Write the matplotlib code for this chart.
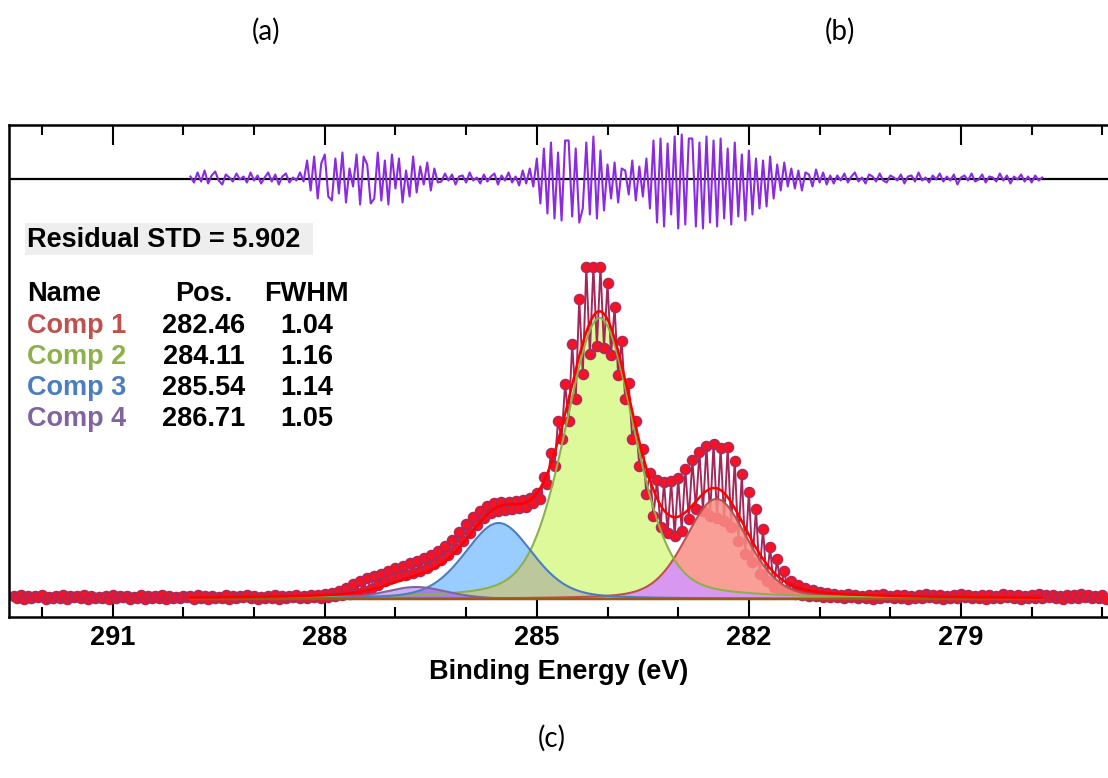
import numpy as np
import matplotlib
matplotlib.use("Agg")
import matplotlib.pyplot as plt
from matplotlib.patches import Rectangle
from matplotlib.ticker import FixedLocator, MultipleLocator

# ---------------- data ----------------
# measured spectrum: two interleaved tracks, 0.1 eV apart each, offset by 0.05 eV
upper_start = 292.40
energy_step = 0.1
upper_counts = [3, 4, 3, 3, 4, 2, 3, 4, 3, 3, 4, 3, 2, 3, 4, 3, 3, 2, 4, 3,
                3, 4, 3, 2, 3, 3, 4, 3, 3, 2, 4, 3, 3, 4, 3, 2, 3, 4, 3, 3,
                4, 3, 4, 4,
                5, 6, 8, 11, 15, 18, 21, 23, 25, 28,
                31, 33, 36, 38, 41, 44, 48, 53, 59, 67,
                75, 82, 88, 93, 96, 97, 97, 98, 99, 101,
                106, 122, 146, 178, 215, 255, 300, 332, 332, 332,
                316, 292, 258, 216, 178, 150, 126, 119, 117, 118,
                121, 130, 139, 147, 153, 155, 151, 152, 138, 125,
                107, 90, 70, 52, 40, 28, 18, 14, 11, 9,
                7, 6, 5,
                4, 5, 4, 3, 4, 4, 5, 3, 4, 4, 3, 4, 5, 4, 4, 3, 4, 5, 4, 3,
                4, 4, 3, 5, 4, 4, 3, 4, 5, 4, 4, 3, 4, 4, 5, 4, 3, 4]
lower_counts = [1, 0, 1, 2, 0, 1, 1, 0, 2, 1, 0, 1, 1, 0, 1, 2, 0, 1, 0, 1,
                1, 0, 1, 1, 2, 0, 1, 0, 1, 1, 0, 1, 2, 1, 0, 1, 1, 0, 1, 2,
                1, 1, 2, 1,
                2, 3, 4, 5, 6, 8, 10, 14, 18, 21,
                23, 24, 26, 28, 31, 35, 39, 44, 50, 58,
                66, 74, 81, 86, 88, 89, 90, 91, 92, 96,
                100, 115, 133, 160, 178, 200, 225, 245, 253, 251,
                244, 224, 200, 160, 133, 105, 83, 72, 66, 63,
                68, 80, 90, 88, 83, 81, 78, 72, 58, 45,
                37, 25, 18, 12, 9, 7, 5, 4, 3, 3,
                2, 2, 2,
                1, 2, 1, 1, 0, 1, 2, 1, 1, 0, 1, 1, 2, 1, 0, 1, 1, 2, 1, 1,
                0, 1, 1, 2, 1, 0, 1, 1, 1, 2, 1, 0, 1, 1, 2, 1, 1, 0]

# fitted components (table in the chart) and their heights
comp_names = ["Comp 1", "Comp 2", "Comp 3", "Comp 4"]
comp_pos = [282.46, 284.11, 285.54, 286.71]
comp_fwhm = [1.04, 1.16, 1.14, 1.05]
comp_height = [100, 281, 76, 12]
gl_mix = 0.3
background_level = 0.0
fit_start, fit_end = 289.90, 277.85

# residual trace (top strip), 0.05 eV spacing starting at fit_start
residual_step = 0.05
residual = [2, -4, 6, -3, 8, -5, 3, 7, -2, -6, 4, 1, -3, 5, -1, 2, -4, 6, -2, 3,
            -5, 1, 6, -3, 4, -6, 2, 5, -4, 1, -2, 6, -3,
            18, -12, 22, -20, 15, 24, -18, -22, 20, -15, 26, -24, 10, -8, 24, -26, 22, 14, -25, -20,
            26, -22, 18, -26, 24, -10, 20, -24, 8, -18, 22, -14, 12, -6, 16, -12, 10, -4,
            -3, 5, -2, 4, -6, 2, 3, -4, 6, -2, 1, -5, 4, -3, 2, 5, -6, 3, -2, 6,
            -4, 2, -7, 8, -5, 10, -8,
            20, -25, 30, -35, 36, -40, 26, -42, 38, 38, -38, 30, -44, -30, 36, -36, 42, -40, 28, -32,
            14, -20, 16, -24, 10, 8, -16, 18, -22, 12, -18, 20,
            -30, 38, -44, 40, -48, 35, -36, 42, -50, 44, -46, 40, 40, -48, 36, -50, 42, -44, 38, -48,
            40, -40, 30, -46, 36, -38, 24, -42, 28,
            -36, 20, -30, 18, -28, 22, -20, 14, -12, 16, -8, 10,
            -10, 8, -12, 6, 4, -8, 9, -4, 6, -6, 3, -5,
            3, -2, 5, -4, 2, 6, -3, 1, -5, 4, 2, -3, 5, -2, -4, 3, 1, -2, 4, -5,
            2, 3, -3, 6, -2, 1, -4, 3, -1, 5, -3, 2, -2, 4, -6, 1, 3, -2, 5, -3,
            -1, 4, -4, 2, 1, -3, 5, -2, 3, -5, 2, -1, 4, -3, 2, -4, 3, -2, 1]
residual_std = 5.902
residual_zero = 420.5

major_ticks = [291, 288, 285, 282, 279]
x_label = "Binding Energy (eV)"
panel_labels = ["(a)", "(b)", "(c)"]

# ---------------- figure ----------------
W, H = 1108, 778
fig = plt.figure(figsize=(W / 100, H / 100), dpi=100)


def fx(px):
    return px / W


def fy(py):
    return 1 - py / H


ax = fig.add_axes([fx(9), fy(617), fx(1108) - fx(9), fy(125) - fy(617)])
ax.set_xlim(292.467, 276.92)
ax.set_ylim(-18, 474)

# interleave tracks
n = len(upper_counts)
e_up = upper_start - energy_step * np.arange(n)
energy = np.empty(2 * n)
counts = np.empty(2 * n)
energy[0::2] = e_up
energy[1::2] = e_up - energy_step / 2
counts[0::2] = upper_counts
counts[1::2] = lower_counts


def gl(e, pos, fwhm, h, m=gl_mix):
    x2 = ((e - pos) / fwhm) ** 2
    return h * ((1 - m) * np.exp(-4 * np.log(2) * x2) + m / (1 + 4 * x2))


e_fit = np.linspace(fit_start, fit_end, 1500)
comps = [gl(e_fit, p, f, h) for p, f, h in zip(comp_pos, comp_fwhm, comp_height)]
bg = np.full_like(e_fit, background_level)
envelope = bg + sum(comps)
c1, c2, c3, c4 = [bg + c for c in comps]

fill_cols = ["#F98E86", "#DDF99A", "#99CCFF", "#C8B0F2"]
line_cols = ["#C0504D", "#8DB04A", "#4A7EC0", "#8064A2"]

# lower fills
ax.fill_between(e_fit, bg, c2, color=fill_cols[1], lw=0, zorder=1)
ax.fill_between(e_fit, bg, c3, color=fill_cols[2], lw=0, zorder=1)
ax.fill_between(e_fit, bg, c4, color=fill_cols[3], lw=0, zorder=1)
ax.fill_between(e_fit, bg, np.minimum(c2, c3), color="#BCC89B", lw=0, zorder=1.1)
ax.fill_between(e_fit, bg, np.minimum(c3, c4), color="#A57EE6", lw=0, zorder=1.1)

# measured data
ax.plot(energy, counts, "-", color="#A3285A", lw=1.4, zorder=2)
ax.plot(energy, counts, "o", ms=7.0, mfc="#FF1020", mec="#B02858", mew=1.3, zorder=2.1)

# comp 1 fill overlays data
ax.fill_between(e_fit, bg, c1, color=fill_cols[0], alpha=0.85, lw=0, zorder=3)
ax.fill_between(e_fit, bg, np.minimum(c1, c2), color="#D898F2", lw=0, zorder=3.1)

for c, col in zip([c1, c2, c3, c4], line_cols):
    ax.plot(e_fit, c, color=col, lw=1.5, zorder=4)
ax.plot(e_fit, bg, color="#9C5A1A", lw=1.8, zorder=4)
ax.plot(e_fit, envelope, color="#FF0000", lw=1.8, zorder=4.5)

# residual strip
e_res = fit_start - residual_step * np.arange(len(residual))
ax.axhline(residual_zero, color="black", lw=1.6, zorder=4)
ax.plot(e_res, residual_zero + np.array(residual), color="#8A2BE2", lw=1.5, zorder=5)

# axes styling
for s in ["left", "top", "bottom"]:
    ax.spines[s].set_linewidth(1.8)
    ax.spines[s].set_color("black")
ax.spines["right"].set_visible(False)
ax.set_yticks([])
ax.xaxis.set_major_locator(FixedLocator(major_ticks))
ax.xaxis.set_minor_locator(MultipleLocator(1))
ax.tick_params(axis="x", which="both", direction="in", top=True, bottom=True,
               width=1.5, color="black", pad=5.5)
ax.tick_params(axis="x", which="major", length=14.5)
ax.tick_params(axis="x", which="minor", length=7.5)
for lab in ax.get_xticklabels():
    lab.set_fontfamily("Liberation Sans")
    lab.set_fontweight("bold")
    lab.set_fontsize(19.5)
ax.set_xlabel(x_label, fontfamily="Liberation Sans", fontweight="bold", fontsize=19.5, labelpad=6)

# legend/table
tfont = dict(family="Liberation Sans", weight="bold", size=19.5)
ax.add_patch(Rectangle((fx(25), fy(255)), fx(313) - fx(25), fy(223) - fy(255),
                       transform=fig.transFigure, facecolor="#EEEEEE", edgecolor="none",
                       zorder=6, clip_on=False))
ax.text(fx(27), fy(240), f"Residual STD = {residual_std:.3f}", transform=fig.transFigure,
        ha="left", va="center", color="black", zorder=7, **tfont)
ax.text(fx(27), fy(294), "Name", transform=fig.transFigure, ha="left", va="center", zorder=7, **tfont)
ax.text(fx(204), fy(294), "Pos.", transform=fig.transFigure, ha="center", va="center", zorder=7, **tfont)
ax.text(fx(306), fy(294), "FWHM", transform=fig.transFigure, ha="center", va="center", zorder=7, **tfont)
row_y = [326, 357, 388, 419]
for name, pos, fw, col, yy in zip(comp_names, comp_pos, comp_fwhm, line_cols, row_y):
    ax.text(fx(27), fy(yy), name, transform=fig.transFigure, ha="left", va="center",
            color=col, zorder=7, **tfont)
    ax.text(fx(204), fy(yy), f"{pos:.2f}", transform=fig.transFigure, ha="center", va="center",
            color="black", zorder=7, **tfont)
    ax.text(fx(307), fy(yy), f"{fw:.2f}", transform=fig.transFigure, ha="center", va="center",
            color="black", zorder=7, **tfont)

# panel captions
cap = dict(family="Lato", size=20, ha="center", va="center", color="black")
fig.text(fx(266), fy(31), panel_labels[0], **cap)
fig.text(fx(840), fy(31), panel_labels[1], **cap)
fig.text(fx(552), fy(738), panel_labels[2], **cap)

fig.savefig("out.png", dpi=100)
